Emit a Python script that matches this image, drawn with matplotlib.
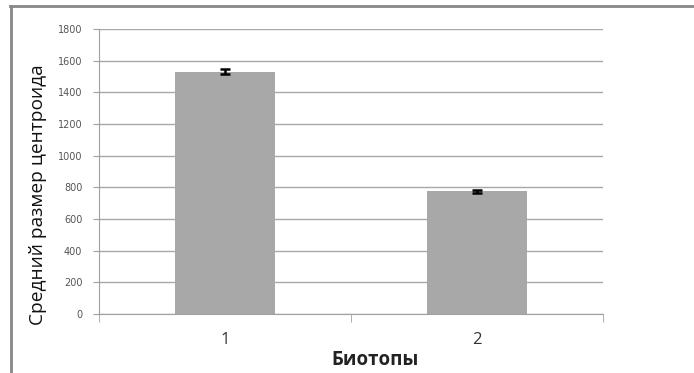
import matplotlib.pyplot as plt
import numpy as np

categories = ["1", "2"]
means = [1530, 775]
errors = [15, 8]
y_ticks = [0, 200, 400, 600, 800, 1000, 1200, 1400, 1600, 1800]

plt.rcParams['font.family'] = ['Open Sans', 'DejaVu Sans']

fig = plt.figure(figsize=(6.94, 3.73), dpi=100)
ax = fig.add_axes([0.1427, 0.1582, 0.7262, 0.7641])

x = np.arange(len(categories))
ax.bar(x, means, width=0.4, color="#a8a8a8", zorder=2)
ax.errorbar(x, means, yerr=errors, fmt="none", ecolor="black",
            elinewidth=1.8, capsize=3.6, capthick=1.8, zorder=3)

ax.set_xlim(-0.5, len(categories) - 0.5)
ax.set_ylim(0, 1800)
ax.set_yticks(y_ticks)
ax.set_yticklabels([str(v) for v in y_ticks], fontsize=7, color="#555555",
                   family="DejaVu Sans")
ax.yaxis.grid(True, color="#a8a8a8", linewidth=1)
ax.set_axisbelow(True)

ax.set_xticks(x)
ax.set_xticklabels(categories, fontsize=12, color="#333333")
ax.set_xticks(np.arange(-0.5, len(categories)), minor=True)
ax.tick_params(axis="x", which="major", length=0, pad=13)
ax.tick_params(axis="x", which="minor", length=6, color="#a0a0a0")
ax.tick_params(axis="y", length=4, color="#a0a0a0", pad=8)

for side in ["top", "right"]:
    ax.spines[side].set_visible(False)
for side in ["left", "bottom"]:
    ax.spines[side].set_color("#a0a0a0")

ax.set_ylabel("Средний размер центроида", fontsize=13.8, color="#111111")
ax.yaxis.set_label_coords(-0.103, 0.42)
ax.set_xlabel("Биотопы", fontsize=13.5, fontweight="bold", color="#222222")
ax.xaxis.set_label_coords(0.548, -0.125)

# frame of the chart area (top and left only)
fig.add_artist(plt.Line2D([10 / 694, 1.0], [1 - 6 / 373, 1 - 6 / 373],
                          color="#888888", linewidth=2))
fig.add_artist(plt.Line2D([11 / 694, 11 / 694], [0, 1 - 6 / 373],
                          color="#888888", linewidth=2))

plt.savefig("out.png", dpi=100)
